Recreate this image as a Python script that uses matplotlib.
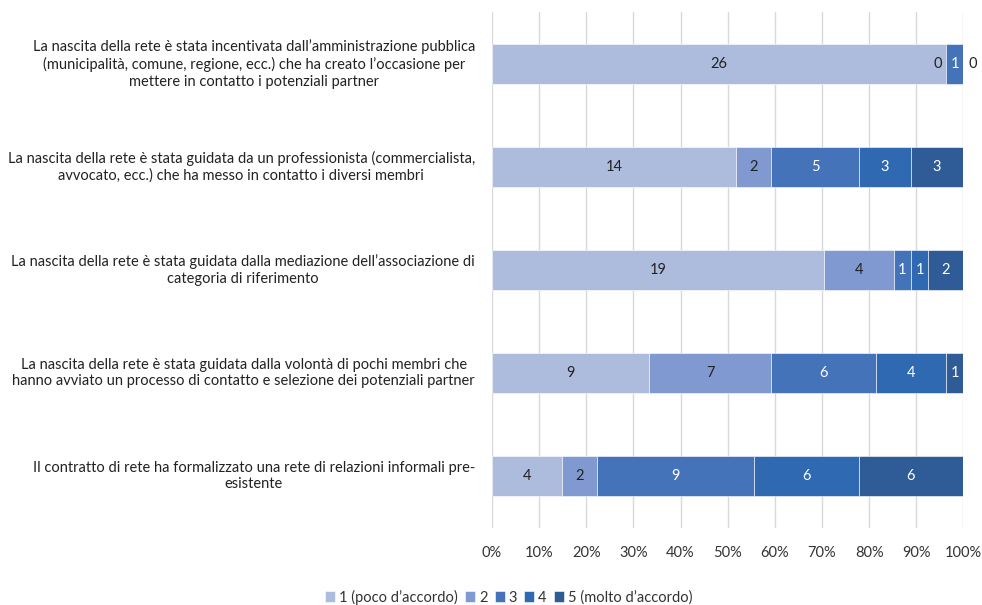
import numpy as np
import matplotlib.pyplot as plt
from matplotlib.transforms import offset_copy

plt.rcParams['font.family'] = ['Lato', 'DejaVu Sans']

statements = [
    "La nascita della rete è stata incentivata dall’amministrazione pubblica\n(municipalità, comune, regione, ecc.) che ha creato l’occasione per\nmettere in contatto i potenziali partner",
    "La nascita della rete è stata guidata da un professionista (commercialista,\navvocato, ecc.) che ha messo in contatto i diversi membri",
    "La nascita della rete è stata guidata dalla mediazione dell’associazione di\ncategoria di riferimento",
    "La nascita della rete è stata guidata dalla volontà di pochi membri che\nhanno avviato un processo di contatto e selezione dei potenziali partner",
    "Il contratto di rete ha formalizzato una rete di relazioni informali pre-\nesistente",
]
levels = ["1 (poco d’accordo)", "2", "3", "4", "5 (molto d’accordo)"]

# counts per agreement level (nan = no answer recorded)
lvl1 = [26, 14, 19, 9, 4]
lvl2 = [0, 2, 4, 7, 2]
lvl3 = [1, 5, 1, 6, 9]
lvl4 = [0, 3, 1, 4, 6]
lvl5 = [np.nan, 3, 2, 1, 6]

colors = ["#ADBCDC", "#8199D1", "#4573B9", "#2E69B2", "#2F5B97"]
text_colors = ["#222222", "#222222", "white", "white", "white"]

counts = np.array([lvl1, lvl2, lvl3, lvl4, lvl5], dtype=float)
totals = np.nansum(counts, axis=0)
shares = np.nan_to_num(counts) / totals

fig = plt.figure(figsize=(9.82, 6.05), dpi=100)
ax = fig.add_axes([0.501, 0.128, 0.48, 0.852])

y = np.arange(len(statements))
left = np.zeros(len(statements))
for i, lvl in enumerate(levels):
    ax.barh(y, shares[i], left=left, height=0.39, color=colors[i],
            label=lvl, edgecolor="white", linewidth=0.4, zorder=2)
    for j in range(len(statements)):
        if np.isnan(counts[i, j]):
            continue
        xc = left[j] + shares[i, j] / 2
        if shares[i, j] > 0:
            ax.text(xc, y[j], f"{int(counts[i, j])}", ha="center", va="center",
                    fontsize=10.5, color=text_colors[i], zorder=3)
        else:
            # empty segment: push the zero label out beside the bar edge
            nxt = np.nan_to_num(counts[i + 1:, j]).sum() if i + 1 < len(levels) else 0
            dx, ha = (-3, "right") if nxt > 0 else (4, "left")
            ax.annotate(f"{int(counts[i, j])}", (xc, y[j]), xytext=(dx, 0),
                        textcoords="offset points", ha=ha, va="center",
                        fontsize=10.5, color="#222222", zorder=3)
    left += shares[i]

ax.set_xlim(0, 1)
ax.set_ylim(len(statements) - 0.5, -0.5)
ax.set_xticks(np.linspace(0, 1, 11))
ax.set_xticklabels([f"{int(round(v * 100))}%" for v in np.linspace(0, 1, 11)],
                   fontsize=10.5, color="#333333")
ax.tick_params(axis="x", length=0, pad=13)
ax.set_yticks([])
ax.grid(axis="x", color="#D9D9D9", linewidth=1, zorder=0)
for s in ax.spines.values():
    s.set_visible(False)

lab_tr = offset_copy(ax.get_yaxis_transform(), fig=fig, x=-17, y=0, units="dots")
for j, txt in enumerate(statements):
    ax.text(0, y[j], txt, transform=lab_tr, ha="right", va="center",
            multialignment="center", fontsize=10.5, color="#222222",
            linespacing=1.25)

fig.legend(loc="center", bbox_to_anchor=(0.518, 0.013), ncol=5, frameon=False,
           fontsize=10.5, handlelength=0.7, handleheight=0.7,
           handletextpad=0.25, columnspacing=0.5, labelcolor="#333333")

fig.savefig("out.png", dpi=100)
